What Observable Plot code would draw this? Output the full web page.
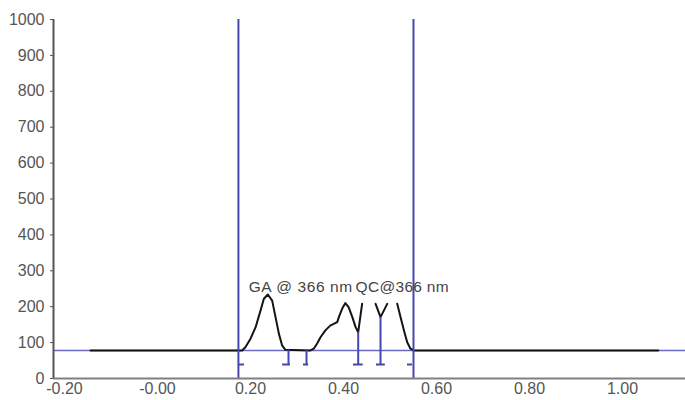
<!DOCTYPE html>
<html><head><meta charset="utf-8">
<script src="https://cdn.jsdelivr.net/npm/d3@7"></script>
<script src="https://cdn.jsdelivr.net/npm/@observablehq/plot@0.6"></script>
<style>body{margin:0;background:#fff;}</style>
</head><body><div id="chart"></div>
<script>
// Chromatogram trace (null = gap in the drawn line)
const traceX = [-0.144, 0.182, 0.189, 0.200, 0.211, 0.2215, 0.2287, 0.2373, 0.2466, 0.2538, 0.261, 0.268, 0.275,
  0.329, 0.336, 0.343, 0.3505, 0.361, 0.372, 0.379, 0.3865, 0.390, 0.397, 0.404, 0.411, 0.419, 0.426, 0.4316, 0.440,
  0.455,
  0.469, 0.4796, 0.494,
  0.505,
  0.5155, 0.5226, 0.530, 0.537, 0.544, 0.551, 1.077];
const traceY = [78, 78, 87, 111, 143, 189, 222, 234, 217, 171, 125, 92, 80,
  78, 83, 97, 115, 134, 148, 152, 157, 171, 194, 210, 199, 171, 143, 129, 208,
  null,
  208, 171, 208,
  null,
  208, 171, 134, 101, 83, 78, 78];
const boundaryX = [0.174, 0.5505];
const baselineValue = 78;
const dropX = [0.2817, 0.3204, 0.4316, 0.4796];
const dropTop = [78, 78, 129, 171];
const capX1 = [0.174, 0.269, 0.314, 0.4215, 0.471, 0.5376];
const capX2 = [0.187, 0.286, 0.325, 0.4424, 0.490, 0.5484];
const capValue = 39;
const xTicks = [-0.2, 0, 0.2, 0.4, 0.6, 0.8, 1.0];
const xTickLabels = ["-0.20", "-0.00", "0.20", "0.40", "0.60", "0.80", "1.00"];
const yTicks = [0, 100, 200, 300, 400, 500, 600, 700, 800, 900, 1000];
const labelText = ["GA @ 366 nm", "QC@366 nm"];
const labelX = [0.196, 0.426];
const labelY = [240, 240];

const xDomain = [-0.2237, 1.1355];
const trace = traceX.map((x, i) => ({x, y: traceY[i]}));
const drops = dropX.map((x, i) => ({x, top: dropTop[i]}));
const caps = capX1.map((x1, i) => ({x1, x2: capX2[i]}));
const labels = labelText.map((t, i) => ({t, x: labelX[i], y: labelY[i]}));
const blue = "#4646ae";

const chart = Plot.plot({
  width: 685, height: 400,
  marginLeft: 53, marginRight: 0, marginTop: 19, marginBottom: 22,
  style: {fontFamily: "'Liberation Sans', Arial, sans-serif", fontSize: "16px", color: "#555", background: "#fff"},
  x: {domain: xDomain},
  y: {domain: [0, 1000]},
  marks: [
    Plot.ruleY([baselineValue], {stroke: "#6a6ac2", strokeWidth: 1.3}),
    Plot.line(trace, {x: "x", y: "y", stroke: "#141414", strokeWidth: 2}),
    Plot.ruleX(boundaryX, {y1: 0, y2: 1000, stroke: blue, strokeWidth: 2}),
    Plot.ruleX(drops, {x: "x", y1: capValue, y2: "top", stroke: blue, strokeWidth: 2}),
    Plot.ruleY(caps, {x1: "x1", x2: "x2", y: capValue, stroke: blue, strokeWidth: 2}),
    Plot.text(labels, {x: "x", y: "y", text: "t", textAnchor: "start", lineAnchor: "bottom", fontSize: 15.5, fill: "#444", className: "annot"}),
    Plot.ruleY([0], {stroke: "#808080", strokeWidth: 2}),
    Plot.ruleX([xDomain[0]], {y1: 0, y2: 1000, stroke: "#555", strokeWidth: 2}),
    Plot.axisY({ticks: yTicks, tickSize: 3, tickPadding: 6, tickFormat: d => String(d), label: null}),
    Plot.axisX({ticks: xTicks, tickSize: 0, tickPadding: 4, tickFormat: d => xTickLabels[xTicks.indexOf(d)], label: null})
  ]
});
document.getElementById("chart").appendChild(chart);
d3.select(chart).selectAll(".annot text").each(function() {
  d3.select(this).attr("letter-spacing", this.textContent.startsWith("GA") ? "0.6px" : "0.3px");
});
</script>
</body></html>
